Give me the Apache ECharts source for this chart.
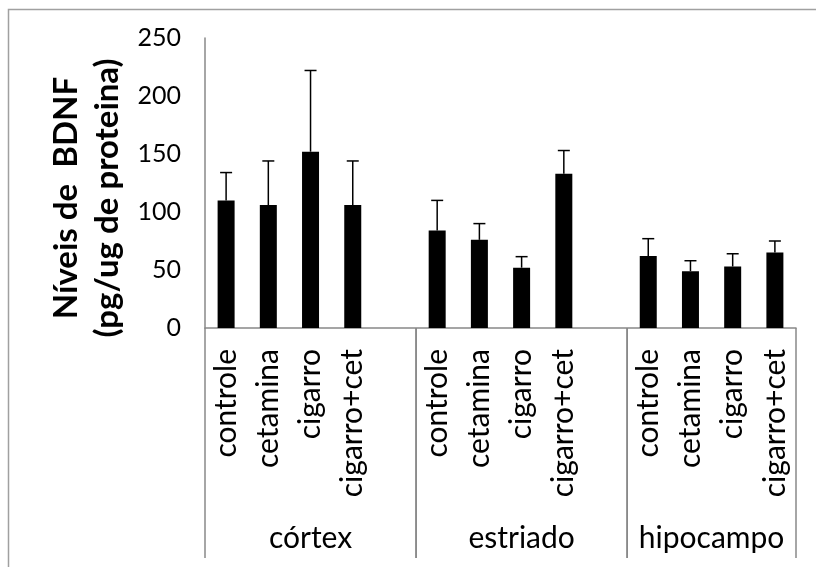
<!DOCTYPE html>
<html>
<head>
<meta charset="utf-8">
<script src="https://cdn.jsdelivr.net/npm/echarts@6/dist/echarts.min.js"></script>
<style>
html,body{margin:0;padding:0;background:#fff;}
#chart{width:816px;height:567px;}
</style>
</head>
<body>
<div id="chart"></div>
<script>
// ---- data ----
var categories = ['controle','cetamina','cigarro','cigarro+cet','',
                  'controle','cetamina','cigarro','cigarro+cet','',
                  'controle','cetamina','cigarro','cigarro+cet'];
var means  = [110, 106, 152, 106, null, 84, 76, 52, 133, null, 62, 49, 53, 65];
var errors = [ 24,  38,  70,  38, null, 26, 14, 9.5, 20, null, 15, 9, 11, 10];
var groupNames = ['córtex', 'estriado', 'hipocampo'];
var groupStart = [0, 5, 10];
var groupEnd   = [4, 9, 13];
var yTicks = [0, 50, 100, 150, 200, 250];

var errData = [];
for (var i = 0; i < means.length; i++) {
  if (means[i] != null) errData.push([i, means[i], means[i] + errors[i]]);
}
var groupData = groupNames.map(function (n, k) { return [groupStart[k], groupEnd[k], n]; });

var FONT = 'Lato, "Open Sans", sans-serif';
var chart = echarts.init(document.getElementById('chart'));
chart.setOption({
  animation: false,
  backgroundColor: '#fff',
  grid: { left: 205, right: 20, top: 38, height: 290, containLabel: false },
  graphic: [
    { type: 'rect', shape: { x: 8.5, y: 9.5, width: 900, height: 700 },
      style: { fill: 'none', stroke: '#a0a0a0', lineWidth: 1.5 }, silent: true },
    { type: 'text', x: 87, y: 198, rotation: Math.PI / 2, silent: true,
      style: { text: 'Níveis de  BDNF\n(pg/ug de proteina)', font: 'bold 33px ' + FONT,
               fill: '#000', align: 'center', verticalAlign: 'middle', lineHeight: 41 } }
  ],
  xAxis: {
    type: 'category', data: categories,
    axisLine: { show: true, lineStyle: { color: '#888', width: 1.5 } },
    axisTick: { show: false },
    axisLabel: { interval: 0, rotate: 90, margin: 21, fontFamily: FONT, fontSize: 30, color: '#000' }
  },
  yAxis: {
    type: 'value', min: 0, max: 250, interval: 50,
    axisLine: { show: true, lineStyle: { color: '#888', width: 1.5 } },
    axisTick: { show: false },
    splitLine: { show: false },
    axisLabel: { margin: 24, fontFamily: FONT, fontSize: 25, color: '#000',
                 formatter: function (v) { return yTicks.indexOf(v) >= 0 ? String(v) : ''; } }
  },
  series: [
    { type: 'bar', data: means, barWidth: 17, itemStyle: { color: '#000' }, silent: true },
    { type: 'custom', data: errData, silent: true, z: 5,
      renderItem: function (params, api) {
        var x = api.coord([api.value(0), api.value(1)]);
        var t = api.coord([api.value(0), api.value(2)]);
        return { type: 'group', children: [
          { type: 'line', shape: { x1: x[0], y1: x[1], x2: t[0], y2: t[1] }, style: { stroke: '#000', lineWidth: 1.5 } },
          { type: 'line', shape: { x1: t[0] - 6, y1: t[1], x2: t[0] + 6, y2: t[1] }, style: { stroke: '#000', lineWidth: 1.5 } }
        ] };
      } },
    { type: 'custom', data: groupData, silent: true, clip: false,
      renderItem: function (params, api) {
        var bw = api.size([1, 0])[0];
        var a = api.coord([api.value(0), 0]);
        var b = api.coord([api.value(1), 0]);
        var l = a[0] - bw / 2, r = b[0] + bw / 2, y0 = a[1];
        return { type: 'group', children: [
          { type: 'line', shape: { x1: l, y1: y0, x2: l, y2: y0 + 230 }, style: { stroke: '#888', lineWidth: 1.5 } },
          { type: 'line', shape: { x1: r, y1: y0, x2: r, y2: y0 + 230 }, style: { stroke: '#888', lineWidth: 1.5 } },
          { type: 'text', style: { text: groupNames[params.dataIndex], x: (l + r) / 2, y: y0 + 210,
              font: '30px ' + FONT, fill: '#000', align: 'center', verticalAlign: 'middle' } }
        ] };
      } }
  ]
});
</script>
</body>
</html>
